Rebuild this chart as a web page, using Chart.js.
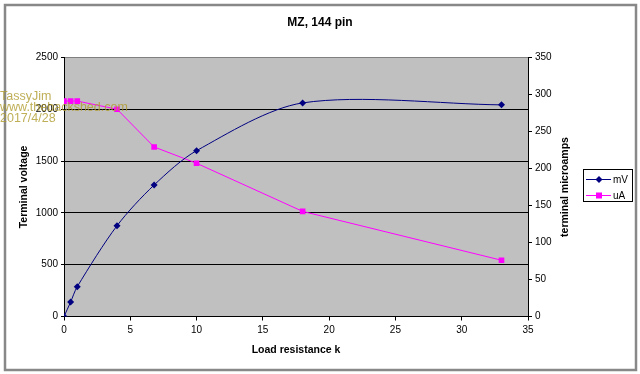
<!DOCTYPE html>
<html lang="en">
<head>
<meta charset="UTF-8" />
<title>MZ, 144 pin</title>
<script src="https://cdn.jsdelivr.net/npm/chart.js"></script>
<style>
body { margin: 0; background: #fff; }
.wrap { width: 640px; height: 374px; position: relative; }
</style>
</head>
<body>
<div class="wrap"><canvas id="chart"></canvas></div>
<script>
// values
const loadK = [0, 0.5, 1, 4, 6.8, 10, 18, 33];
const mV = [0, 140, 288, 876, 1269, 1600, 2061, 2042];
const uA = [291, 291, 291, 280, 229, 207, 142, 76];
const xTicks = [0, 35, 5];     // min, max, step
const voltTicks = [0, 2500, 500];
const ampTicks = [0, 350, 50];

const FONT = "'Liberation Sans', Arial, sans-serif";
const toPoints = ys => loadK.map((x, i) => ({ x: x, y: ys[i] }));
const plain = v => String(v);

// background, plot area, frame, legend, right title, watermark
const decor = {
    id: 'decor',
    beforeDraw(chart) {
        const { ctx, chartArea: a } = chart;
        ctx.save();
        ctx.fillStyle = '#fff';
        ctx.fillRect(0, 0, chart.width, chart.height);
        ctx.fillStyle = '#c0c0c0';
        ctx.fillRect(a.left, a.top, a.right - a.left, a.bottom - a.top);
        ctx.restore();
    },
    afterDraw(chart) {
        const { ctx } = chart;
        ctx.save();
        // outer frame
        ctx.strokeStyle = '#888';
        ctx.lineWidth = 2.5;
        ctx.strokeRect(5, 5, 631, 365);

        // right axis title, reads bottom to top
        ctx.fillStyle = '#000';
        ctx.font = 'bold 10.5px ' + FONT;
        ctx.textAlign = 'center';
        ctx.textBaseline = 'middle';
        ctx.translate(565, 187);
        ctx.rotate(-Math.PI / 2);
        ctx.fillText('terminal microamps', 0, 0);
        ctx.setTransform(1, 0, 0, 1, 0, 0);

        // legend
        ctx.fillStyle = '#fff';
        ctx.fillRect(583.5, 169.5, 49, 32);
        ctx.strokeStyle = '#000';
        ctx.lineWidth = 1;
        ctx.strokeRect(583.5, 169.5, 49, 32);
        ctx.font = '10px ' + FONT;
        ctx.textAlign = 'left';
        chart.data.datasets.forEach((ds, i) => {
            const y = 179.5 + i * 16;
            ctx.strokeStyle = ds.borderColor;
            ctx.beginPath();
            ctx.moveTo(586, y);
            ctx.lineTo(611, y);
            ctx.stroke();
            ctx.fillStyle = ds.backgroundColor;
            ctx.beginPath();
            if (ds.pointStyle === 'rect') {
                ctx.rect(596, y - 3, 6, 6);
            } else {
                ctx.moveTo(599, y - 3.5); ctx.lineTo(602.5, y);
                ctx.lineTo(599, y + 3.5); ctx.lineTo(595.5, y);
                ctx.closePath();
            }
            ctx.fill();
            ctx.fillStyle = '#000';
            ctx.fillText(ds.label, 613, y + 0.5);
        });

        // watermark
        ctx.fillStyle = 'rgba(175, 155, 45, 0.8)';
        ctx.font = '12.5px ' + FONT;
        ctx.textBaseline = 'middle';
        ['TassyJim', 'www.thebackshed.com', '2017/4/28'].forEach((t, i) => {
            ctx.fillText(t, 0, 97 + i * 10.7);
        });
        ctx.restore();
    }
};

new Chart(document.getElementById('chart'), {
    type: 'line',
    data: {
        datasets: [{
            label: 'mV',
            data: toPoints(mV),
            yAxisID: 'y',
            borderColor: '#000080',
            backgroundColor: '#000080',
            borderWidth: 1,
            tension: 0.3,
            pointStyle: 'rectRot',
            pointRadius: 3.5,
            pointBorderWidth: 0
        }, {
            label: 'uA',
            data: toPoints(uA),
            yAxisID: 'y1',
            borderColor: '#ff00ff',
            backgroundColor: '#ff00ff',
            borderWidth: 1,
            tension: 0,
            pointStyle: 'rect',
            pointRadius: 4,
            pointBorderWidth: 0
        }]
    },
    options: {
        responsive: true,
        maintainAspectRatio: false,
        animation: false,
        layout: { padding: 0 },
        plugins: {
            legend: { display: false },
            tooltip: { enabled: false },
            title: {
                display: true,
                text: 'MZ, 144 pin',
                color: '#000',
                font: { family: FONT, size: 12, weight: 'bold', lineHeight: 1.2 },
                padding: { top: 15.5, bottom: 27.5 }
            }
        },
        scales: {
            x: {
                type: 'linear',
                min: xTicks[0], max: xTicks[1],
                afterFit: s => { s.height = 57.5; },
                ticks: { stepSize: xTicks[2], color: '#000', padding: 4, maxRotation: 0,
                         callback: plain, font: { family: FONT, size: 10 } },
                grid: { drawOnChartArea: false, tickLength: 4, tickColor: '#000' },
                border: { color: '#000', width: 1 },
                title: { display: true, text: 'Load resistance k', color: '#000',
                         font: { family: FONT, size: 10.5, weight: 'bold', lineHeight: 1.2 },
                         padding: { top: 0, bottom: 17.7 } }
            },
            y: {
                position: 'left',
                min: voltTicks[0], max: voltTicks[1],
                afterFit: s => { s.width = 64; },
                ticks: { stepSize: voltTicks[2], color: '#000', padding: 3,
                         callback: plain, font: { family: FONT, size: 10 } },
                grid: {
                    tickLength: 3,
                    tickColor: '#000',
                    color: c => c.tick.value === voltTicks[1] ? '#808080' : '#000'
                },
                border: { color: '#000', width: 1 },
                title: { display: true, text: 'Terminal voltage', color: '#000',
                         font: { family: FONT, size: 10.5, weight: 'bold', lineHeight: 1.2 },
                         padding: { top: 17.7, bottom: 0 } }
            },
            y1: {
                position: 'right',
                min: ampTicks[0], max: ampTicks[1],
                afterFit: s => { s.width = 112; },
                ticks: { stepSize: ampTicks[2], color: '#000', padding: 3,
                         callback: plain, font: { family: FONT, size: 10 } },
                grid: { drawOnChartArea: false, tickLength: 4, tickColor: '#000' },
                border: { color: '#000', width: 1 }
            }
        }
    },
    plugins: [decor]
});
</script>
</body>
</html>
